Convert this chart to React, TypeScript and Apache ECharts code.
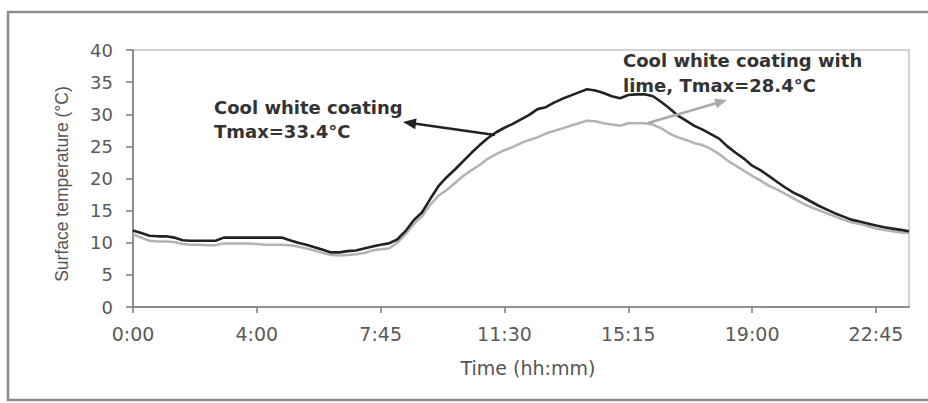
import React, { useEffect, useRef } from "react";
import * as echarts from "echarts";

const times: string[] = [
  "0:00","0:30","0:45","1:00","1:15","1:30","1:45","2:00","2:15","2:30","2:45","3:00","3:15","3:30","3:45","4:00",
  "4:15","4:30","4:45","5:00","5:15","5:30","5:45","6:00","6:15","6:30","6:45","7:00","7:15","7:30","7:45",
  "8:00","8:15","8:30","8:45","9:00","9:15","9:30","9:45","10:00","10:15","10:30","10:45","11:00","11:15","11:30",
  "11:45","12:00","12:15","12:30","12:45","13:00","13:15","13:30","13:45","14:00","14:15","14:30","14:45","15:00","15:15",
  "15:30","15:45","16:00","16:15","16:30","16:45","17:00","17:15","17:30","17:45","18:00","18:15","18:30","18:45","19:00",
  "19:15","19:30","19:45","20:00","20:15","20:30","20:45","21:00","21:15","21:30","21:45","22:00","22:15","22:30","22:45",
  "23:00","23:15","23:30","23:45",
];

const coolWhite: number[] = [
  11.9, 11.5, 11.1, 11.0, 11.0, 10.8, 10.4, 10.3, 10.3, 10.3,
  10.3, 10.8, 10.8, 10.8, 10.8, 10.8, 10.8, 10.8, 10.8, 10.4,
  10.0, 9.7, 9.3, 8.9, 8.5, 8.5, 8.7, 8.8, 9.1, 9.4,
  9.7, 9.9, 10.5, 11.8, 13.5, 14.7, 16.8, 18.8, 20.2, 21.4,
  22.7, 24.0, 25.2, 26.3, 27.2, 27.9, 28.5, 29.2, 29.9, 30.8,
  31.1, 31.8, 32.4, 32.9, 33.4, 33.9, 33.7, 33.3, 32.8, 32.5,
  33.0, 33.1, 33.1, 32.8, 31.9, 30.9, 29.8, 29.0, 28.2, 27.6,
  26.9, 26.2, 25.0, 24.0, 23.1, 22.0, 21.3, 20.4, 19.5, 18.6,
  17.8, 17.2, 16.5, 15.8, 15.2, 14.6, 14.1, 13.6, 13.3, 13.0,
  12.7, 12.4, 12.2, 12.0, 11.8,
];

const coolWhiteLime: number[] = [
  11.3, 10.8, 10.3, 10.2, 10.2, 10.1, 9.8, 9.7, 9.7, 9.6,
  9.6, 9.9, 9.9, 9.9, 9.9, 9.8, 9.7, 9.7, 9.7, 9.6,
  9.4, 9.1, 8.8, 8.4, 8.1, 8.0, 8.1, 8.2, 8.4, 8.8,
  9.0, 9.1, 10.0, 11.3, 12.9, 14.1, 15.9, 17.3, 18.2, 19.3,
  20.4, 21.3, 22.1, 23.1, 23.8, 24.4, 24.9, 25.5, 26.0, 26.4,
  27.0, 27.4, 27.8, 28.2, 28.6, 29.0, 28.9, 28.6, 28.4, 28.2,
  28.6, 28.6, 28.6, 28.4, 27.8, 27.0, 26.4, 26.0, 25.5, 25.2,
  24.6, 23.8, 22.8, 22.0, 21.2, 20.4, 19.7, 18.9, 18.3, 17.6,
  16.9, 16.2, 15.6, 15.1, 14.6, 14.1, 13.6, 13.2, 12.9, 12.6,
  12.2, 12.0, 11.8, 11.6, 11.5,
];

const labelWhite = "Cool white coating\nTmax=33.4°C";
const labelLime = "Cool white coating with\nlime, Tmax=28.4°C";
const yTitle = "Surface temperature (°C)";
const xTitle = "Time (hh:mm)";

export default function App() {
  const ref = useRef<HTMLDivElement>(null);
  useEffect(() => {
    if (!ref.current) return;
    const chart = echarts.init(ref.current, undefined, { renderer: "svg" });
    const axisFont = "DejaVu Sans";
    chart.setOption({
      animation: false,
      backgroundColor: "#ffffff",
      grid: {
        left: 133,
        right: 19,
        top: 50,
        bottom: 96,
        show: true,
        borderColor: "#c4c4c4",
        borderWidth: 1.5,
        backgroundColor: "transparent",
      },
      xAxis: {
        type: "category",
        data: times,
        boundaryGap: false,
        axisLine: { lineStyle: { color: "#7a7a7a", width: 1.5 } },
        axisTick: { interval: 14, length: 6, lineStyle: { color: "#7a7a7a", width: 1.5 } },
        axisLabel: {
          interval: 14,
          margin: 17,
          color: "#5a5a5a",
          fontFamily: axisFont,
          fontSize: 19,
        },
        splitLine: { show: false },
      },
      yAxis: {
        type: "value",
        min: 0,
        max: 40,
        interval: 5,
        axisLine: { show: true, lineStyle: { color: "#7a7a7a", width: 1.5 } },
        axisTick: { show: true, length: 7, lineStyle: { color: "#7a7a7a", width: 1.5 } },
        axisLabel: {
          margin: 20,
          color: "#5a5a5a",
          fontFamily: axisFont,
          fontSize: 18,
        },
        splitLine: { show: false },
      },
      series: [
        {
          name: "Cool white coating with lime",
          type: "line",
          data: coolWhiteLime,
          showSymbol: false,
          lineStyle: { color: "#b3b3b3", width: 2.5 },
          z: 2,
        },
        {
          name: "Cool white coating",
          type: "line",
          data: coolWhite,
          showSymbol: false,
          lineStyle: { color: "#222222", width: 2.6 },
          z: 3,
        },
      ],
      graphic: [
        {
          type: "rect",
          shape: { x: 8, y: 12, width: 940, height: 388 },
          style: { fill: "none", stroke: "#8c8c8c", lineWidth: 2.5 },
          silent: true,
        },
        {
          type: "text",
          x: 62,
          y: 184,
          rotation: Math.PI / 2,
          style: {
            text: yTitle,
            align: "center",
            verticalAlign: "middle",
            fill: "#555555",
            font: "17.5px 'Liberation Sans'",
          },
        },
        {
          type: "text",
          x: 528,
          y: 368,
          style: {
            text: xTitle,
            align: "center",
            verticalAlign: "middle",
            fill: "#555555",
            font: "19px 'DejaVu Sans'",
          },
        },
        {
          type: "text",
          x: 214,
          y: 95,
          style: {
            text: labelWhite,
            align: "left",
            verticalAlign: "top",
            fill: "#333333",
            font: "bold 18px 'DejaVu Sans'",
            lineHeight: 24,
          },
        },
        {
          type: "text",
          x: 623,
          y: 48,
          style: {
            text: labelLime,
            align: "left",
            verticalAlign: "top",
            fill: "#333333",
            font: "bold 18px 'DejaVu Sans'",
            lineHeight: 25,
          },
        },
        {
          type: "line",
          shape: { x1: 495, y1: 135, x2: 414, y2: 123.6 },
          style: { stroke: "#222222", lineWidth: 2.5 },
          z: 10,
        },
        {
          type: "polygon",
          shape: { points: [[403, 122], [416.6, 118.4], [415.2, 129.3]] },
          style: { fill: "#222222" },
          z: 10,
        },
        {
          type: "line",
          shape: { x1: 648, y1: 123, x2: 716, y2: 103.3 },
          style: { stroke: "#aaaaaa", lineWidth: 2.5 },
          z: 10,
        },
        {
          type: "polygon",
          shape: { points: [[727, 100], [716.9, 108.2], [714.1, 98.6]] },
          style: { fill: "#aaaaaa" },
          z: 10,
        },
      ],
    });
    return () => chart.dispose();
  }, []);
  return (
    <div
      ref={ref}
      style={{ position: "absolute", left: 0, top: 0, width: 928, height: 403, background: "#fff" }}
    />
  );
}
